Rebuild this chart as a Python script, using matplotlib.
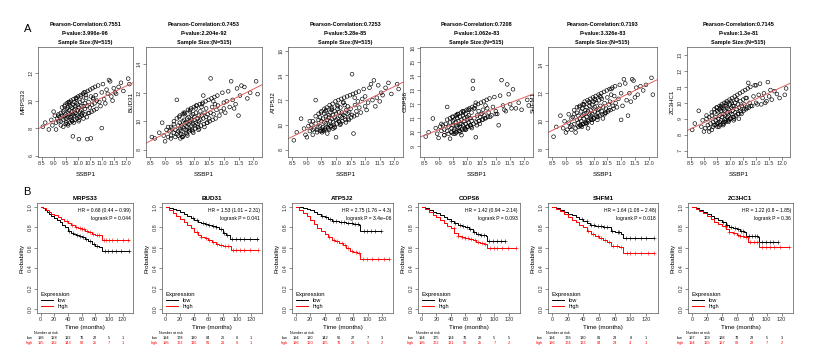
import numpy as np
import matplotlib.pyplot as plt
from matplotlib import transforms

plt.rcParams['font.family'] = ['Liberation Sans', 'DejaVu Sans']

genes = ['MRPS33', 'BUD31', 'ATP5J2', 'COPS6', 'SHFM1', 'ZC3HC1']
pearson = ['0.7551', '0.7453', '0.7253', '0.7208', '0.7193', '0.7145']
pvals = ['3.996e-96', '2.204e-92', '5.28e-85', '1.062e-83', '3.326e-83', '1.3e-81']

# SSBP1 expression (shared x for every scatter panel)
ssbp1 = [8.55, 8.65, 8.8, 8.9, 8.95, 9.05, 9.1, 9.15, 9.2, 9.2,
         9.25, 9.3, 9.3, 9.35, 9.4, 9.4, 9.45, 9.45, 9.5, 9.5,
         9.55, 9.55, 9.6, 9.6, 9.6, 9.65, 9.65, 9.7, 9.7, 9.75,
         9.75, 9.75, 9.8, 9.8, 9.8, 9.85, 9.85, 9.9, 9.9, 9.9,
         9.95, 9.95, 10.0, 10.0, 10.0, 10.05, 10.05, 10.1, 10.1, 10.15,
         10.15, 10.2, 10.2, 10.25, 10.3, 10.3, 10.35, 10.4, 10.4, 10.45,
         10.5, 10.55, 10.55, 10.6, 10.65, 10.7, 10.75, 10.8, 10.9, 11.0,
         11.0, 11.1, 11.2, 11.25, 11.3, 11.4, 11.5, 11.55, 11.6, 11.7,
         11.8, 11.9, 12.1, 12.15,
         9.0, 9.1, 9.2, 9.3, 9.35, 9.4, 9.45, 9.5, 9.55, 9.6,
         9.62, 9.68, 9.72, 9.78, 9.82, 9.88, 9.92, 9.98, 10.02, 10.08,
         10.12, 10.18, 10.22, 10.28, 10.32, 10.38, 10.42, 10.48, 10.52, 10.58,
         10.62, 10.68, 10.72, 10.78, 10.85, 10.95, 11.05, 11.15, 11.35, 11.45,
         9.48, 9.58, 9.66, 9.74, 9.84, 9.94, 10.04, 10.14, 10.24, 10.34,
         9.52, 9.64, 9.76, 9.86, 9.96, 10.06, 10.16, 10.26, 10.44, 10.64]

mrps33 = [8.1, 8.4, 7.9, 8.6, 8.2, 8.9, 8.4, 8.7, 9.0, 8.5,
          8.8, 9.1, 8.5, 8.9, 9.2, 8.6, 8.9, 9.3, 9.0, 8.7,
          9.4, 8.7, 9.1, 8.8, 9.5, 9.0, 9.3, 8.8, 9.6, 9.2,
          8.9, 9.5, 9.0, 9.7, 7.4, 9.3, 8.9, 9.6, 9.1, 9.4,
          9.8, 9.0, 9.3, 9.7, 8.9, 9.5, 7.2, 9.9, 9.2, 9.6,
          9.3, 10.0, 9.1, 9.6, 9.8, 9.4, 10.2, 9.6, 7.2, 9.9,
          9.5, 10.3, 7.25, 9.7, 10.1, 9.8, 10.4, 10.0, 9.9, 10.6,
          8.0, 10.1, 10.8, 10.5, 11.5, 10.3, 10.9, 10.6, 10.5, 11.0,
          11.3, 10.7, 11.6, 11.2,
          9.2, 7.9, 8.9, 8.2, 9.5, 8.1, 9.6, 8.3, 9.8, 8.2,
          9.9, 8.4, 10.0, 8.5, 10.1, 8.6, 10.2, 8.7, 10.3, 8.8,
          10.4, 8.9, 10.5, 9.0, 10.6, 8.8, 10.7, 9.1, 10.8, 9.2,
          10.9, 9.3, 11.0, 9.4, 11.1, 9.6, 11.2, 9.8, 11.4, 10.0,
          9.7, 8.3, 9.9, 8.6, 8.4, 10.1, 8.5, 10.3, 8.7, 10.4,
          8.4, 9.8, 8.5, 9.9, 10.2, 8.6, 9.0, 10.6, 9.1, 10.2]
bud31 = [8.9, 8.8, 9.2, 9.9, 9.0, 9.4, 8.9, 9.3, 9.6, 9.0,
         9.5, 9.2, 9.8, 9.4, 11.5, 9.1, 9.7, 9.3, 9.9, 9.4,
         9.7, 9.3, 10.0, 8.9, 9.6, 10.1, 9.5, 9.9, 9.4, 10.2,
         9.6, 9.9, 10.3, 9.5, 9.8, 10.0, 9.4, 10.4, 9.7, 10.1,
         9.8, 10.5, 10.1, 9.7, 10.3, 9.9, 10.6, 10.2, 9.8, 10.4,
         10.0, 10.7, 10.1, 10.4, 11.8, 10.2, 10.6, 10.3, 10.9, 10.5,
         10.2, 13.0, 10.6, 11.0, 10.5, 11.2, 10.8, 11.1, 10.7, 11.3,
         10.9, 11.4, 11.0, 12.8, 11.5, 11.2, 10.4, 11.8, 12.5, 12.4,
         11.6, 12.0, 12.8, 11.9,
         8.6, 9.6, 8.8, 10.0, 8.9, 10.2, 9.0, 10.4, 9.1, 10.5,
         9.0, 10.6, 9.2, 10.8, 9.3, 10.9, 9.4, 11.0, 9.5, 11.1,
         9.6, 11.2, 9.7, 11.3, 9.8, 11.4, 9.9, 11.5, 10.0, 11.6,
         10.1, 11.7, 10.2, 11.8, 10.4, 12.0, 10.6, 12.1, 10.9, 12.3,
         10.3, 8.9, 10.5, 9.1, 10.7, 9.3, 10.9, 9.4, 11.0, 9.6,
         8.8, 10.6, 9.0, 10.8, 9.2, 11.1, 9.5, 11.2, 9.9, 11.4]
atp5j2 = [8.75, 9.4, 10.5, 9.7, 9.2, 9.9, 9.5, 10.0, 9.6, 10.3,
          9.7, 12.0, 10.1, 9.6, 10.4, 9.8, 10.6, 9.9, 10.3, 9.5,
          10.5, 9.8, 10.9, 10.2, 9.6, 10.7, 10.1, 10.4, 9.3, 10.8,
          10.0, 10.6, 10.3, 11.0, 9.9, 10.5, 11.2, 10.2, 10.8, 9.7,
          10.6, 11.1, 10.4, 9.0, 10.9, 10.5, 11.3, 10.3, 11.0, 10.7,
          11.4, 10.6, 11.0, 10.8, 11.6, 10.7, 11.2, 10.9, 11.5, 11.0,
          11.3, 10.8, 14.1, 9.3, 11.6, 11.1, 11.9, 11.4, 12.1, 11.5,
          12.3, 11.8, 13.3, 12.0, 13.6, 12.2, 11.9, 12.6, 12.4, 13.0,
          13.4, 12.5, 13.3, 12.9,
          9.0, 10.3, 9.2, 10.7, 9.4, 10.9, 9.5, 11.1, 9.6, 11.3,
          9.7, 11.4, 9.8, 11.6, 9.9, 11.7, 10.0, 11.9, 10.1, 12.0,
          10.2, 12.1, 10.3, 12.2, 10.4, 12.3, 10.5, 12.4, 10.6, 12.5,
          10.7, 12.6, 10.8, 12.7, 11.0, 12.9, 11.2, 13.0, 11.5, 13.2,
          11.0, 9.5, 11.2, 9.7, 11.4, 9.8, 11.6, 10.0, 11.8, 10.2,
          9.4, 11.1, 9.6, 11.3, 9.8, 11.5, 10.1, 11.8, 10.4, 12.2]
cops6 = [9.7, 10.0, 10.98, 10.3, 9.9, 10.4, 10.1, 10.5, 9.8, 10.2,
         10.6, 11.8, 10.1, 10.4, 9.55, 10.7, 10.3, 10.0, 10.8, 10.5,
         10.2, 10.9, 10.5, 10.7, 10.0, 11.0, 10.4, 10.8, 10.3, 10.6,
         11.1, 10.4, 10.9, 9.8, 10.6, 11.2, 10.5, 10.8, 10.2, 11.0,
         10.6, 11.3, 10.9, 10.4, 11.1, 10.7, 11.2, 10.5, 11.0, 10.8,
         11.4, 13.65, 13.1, 11.0, 12.1, 9.65, 11.2, 10.8, 11.5, 11.1,
         11.3, 10.9, 11.6, 11.2, 11.0, 11.7, 11.4, 11.1, 11.8, 11.5,
         11.3, 10.5, 13.7, 11.9, 11.6, 13.4, 12.0, 11.7, 13.05, 11.7,
         12.1, 11.6, 12.3, 11.9,
         9.6, 10.6, 9.8, 10.9, 9.9, 11.0, 10.0, 11.1, 10.1, 11.2,
         10.0, 11.3, 10.1, 11.4, 10.2, 11.5, 10.3, 11.6, 10.4, 11.7,
         10.5, 11.8, 10.6, 11.9, 10.7, 12.0, 10.8, 12.1, 10.9, 12.2,
         11.0, 12.3, 11.1, 12.4, 11.2, 12.5, 11.3, 12.6, 11.5, 12.7,
         11.1, 9.9, 11.3, 10.1, 11.5, 10.2, 11.6, 10.4, 11.7, 10.5,
         9.9, 11.2, 10.0, 11.4, 10.2, 11.6, 10.3, 11.7, 10.6, 11.9]
shfm1 = [8.9, 9.6, 10.4, 9.5, 10.0, 9.4, 9.9, 9.6, 10.2, 9.7,
         10.3, 9.8, 10.5, 9.2, 10.1, 10.6, 9.9, 10.4, 9.7, 10.2,
         10.7, 10.0, 10.4, 10.9, 9.8, 10.5, 10.2, 10.8, 9.9, 10.6,
         10.3, 11.0, 10.1, 10.7, 9.5, 10.5, 11.1, 10.2, 10.8, 10.4,
         11.2, 10.5, 10.9, 10.2, 11.4, 10.7, 11.0, 10.4, 11.3, 10.8,
         10.6, 11.5, 10.9, 11.1, 10.7, 11.6, 11.0, 10.5, 11.3, 10.9,
         11.7, 11.2, 10.8, 11.4, 12.3, 11.1, 11.8, 11.3, 11.6, 12.0,
         10.1, 13.0, 11.5, 10.4, 12.0, 13.0, 11.7, 12.4, 11.9, 12.5,
         12.2, 12.6, 13.1, 11.9,
         9.2, 10.5, 9.4, 10.8, 9.5, 11.0, 9.6, 11.1, 9.7, 11.2,
         9.8, 11.4, 9.9, 11.5, 10.0, 11.6, 10.1, 11.7, 10.2, 11.8,
         10.3, 11.9, 10.4, 12.0, 10.5, 12.1, 10.6, 12.2, 10.7, 12.3,
         10.8, 12.4, 10.9, 12.5, 11.0, 12.6, 11.1, 12.7, 11.4, 12.9,
         11.0, 9.6, 11.2, 9.8, 11.4, 9.9, 11.6, 10.1, 11.8, 10.2,
         9.7, 11.2, 9.9, 11.3, 10.1, 11.5, 10.3, 11.7, 10.6, 11.9]
zc3hc1 = [8.3, 8.7, 9.5, 8.5, 8.9, 8.4, 9.0, 8.6, 8.2, 9.1,
          8.7, 8.3, 9.2, 8.8, 9.4, 8.6, 9.1, 8.9, 9.5, 8.7,
          9.0, 9.4, 8.8, 9.6, 9.2, 8.9, 9.5, 9.1, 9.7, 8.8,
          9.3, 9.6, 9.0, 9.5, 9.2, 9.8, 8.9, 9.4, 9.7, 9.1,
          9.6, 9.2, 9.9, 9.4, 9.0, 9.7, 9.3, 9.8, 9.5, 9.1,
          9.8, 9.4, 10.0, 9.6, 9.3, 9.9, 9.7, 10.1, 9.5, 9.8,
          10.2, 9.6, 9.9, 10.3, 9.7, 11.25, 10.0, 9.8, 10.4, 11.1,
          10.0, 10.5, 9.9, 10.3, 10.6, 10.1, 10.4, 10.8, 10.2, 10.73,
          10.55, 10.3, 10.5, 10.9,
          8.2, 9.2, 8.4, 9.4, 8.5, 9.6, 8.6, 9.7, 8.7, 9.8,
          8.6, 9.9, 8.7, 10.0, 8.8, 10.1, 8.9, 10.2, 9.0, 10.3,
          9.1, 10.4, 9.2, 10.5, 9.3, 10.6, 9.4, 10.7, 9.5, 10.8,
          9.6, 10.9, 9.7, 11.0, 9.8, 11.1, 9.9, 11.2, 10.0, 11.3,
          9.7, 8.5, 9.8, 8.6, 10.0, 8.8, 10.1, 8.9, 10.2, 9.0,
          8.5, 9.7, 8.7, 9.9, 8.9, 10.0, 9.0, 10.2, 9.3, 10.3]
gene_expr = [mrps33, bud31, atp5j2, cops6, shfm1, zc3hc1]

scatter_ylims = [(5.9, 13.9), (7.5, 15.2), (7.4, 16.3), (8.25, 16.05), (7.45, 15.3), (6.6, 13.5)]
scatter_yticks = [[6, 8, 10, 12], [8, 10, 12, 14], [8, 10, 12, 14, 16],
                  [9, 10, 11, 12, 13, 14, 15, 16], [8, 10, 12, 14], [7, 8, 9, 10, 11, 12, 13]]

# Kaplan-Meier curves (step times, survival) for low / high expression
km_low_t = [[0, 3, 6, 9, 12, 16, 20, 24, 28, 32, 36, 40, 44, 48, 52, 56, 60, 65, 70, 75, 80, 85, 90, 130],
            [0, 5, 10, 15, 20, 25, 30, 35, 40, 45, 50, 55, 60, 65, 70, 75, 80, 85, 90, 130],
            [0, 5, 10, 15, 20, 25, 30, 35, 40, 45, 50, 55, 60, 70, 80, 88, 90, 118],
            [0, 5, 10, 15, 20, 25, 30, 35, 40, 45, 50, 55, 60, 65, 70, 75, 80, 88, 90, 115],
            [0, 5, 10, 15, 20, 25, 30, 35, 40, 45, 48, 55, 60, 65, 70, 75, 80, 88, 90, 130],
            [0, 5, 10, 15, 20, 25, 30, 35, 40, 45, 50, 55, 60, 65, 70, 72, 80, 88, 90, 115]]
km_low_s = [[1.0, 0.99, 0.97, 0.95, 0.93, 0.91, 0.89, 0.87, 0.85, 0.82, 0.80, 0.77, 0.75, 0.74, 0.73, 0.72, 0.71, 0.69, 0.67, 0.64, 0.62, 0.61, 0.57, 0.57],
            [1.0, 0.99, 0.98, 0.97, 0.95, 0.93, 0.91, 0.89, 0.87, 0.85, 0.84, 0.83, 0.82, 0.81, 0.80, 0.78, 0.75, 0.73, 0.69, 0.69],
            [1.0, 1.0, 0.99, 0.98, 0.97, 0.95, 0.93, 0.91, 0.90, 0.88, 0.86, 0.86, 0.85, 0.84, 0.83, 0.82, 0.77, 0.77],
            [1.0, 0.99, 0.97, 0.95, 0.94, 0.92, 0.90, 0.88, 0.86, 0.84, 0.82, 0.81, 0.80, 0.78, 0.76, 0.74, 0.73, 0.72, 0.67, 0.67],
            [1.0, 0.99, 0.97, 0.95, 0.93, 0.92, 0.90, 0.88, 0.86, 0.84, 0.82, 0.81, 0.81, 0.80, 0.80, 0.77, 0.76, 0.74, 0.70, 0.70],
            [1.0, 0.99, 0.97, 0.95, 0.93, 0.91, 0.89, 0.87, 0.85, 0.82, 0.80, 0.79, 0.78, 0.77, 0.76, 0.72, 0.72, 0.71, 0.66, 0.66]]
km_high_t = [[0, 4, 8, 12, 16, 20, 25, 30, 35, 40, 45, 50, 55, 60, 65, 70, 75, 80, 85, 90, 130],
             [0, 5, 10, 15, 20, 25, 30, 35, 40, 45, 50, 55, 60, 65, 70, 75, 80, 85, 92, 130],
             [0, 5, 10, 15, 20, 25, 30, 35, 40, 45, 50, 55, 60, 65, 70, 75, 80, 85, 90, 130],
             [0, 5, 10, 15, 20, 25, 30, 35, 40, 45, 50, 55, 60, 65, 70, 75, 80, 85, 90, 130],
             [0, 5, 10, 15, 20, 25, 30, 35, 40, 45, 50, 55, 60, 65, 70, 75, 80, 85, 90, 130],
             [0, 5, 10, 15, 20, 25, 30, 35, 40, 45, 50, 55, 60, 65, 70, 75, 80, 85, 90, 130]]
km_high_s = [[1.0, 0.99, 0.97, 0.95, 0.93, 0.92, 0.90, 0.88, 0.86, 0.84, 0.82, 0.80, 0.79, 0.78, 0.77, 0.76, 0.74, 0.73, 0.73, 0.68, 0.68],
             [1.0, 0.97, 0.94, 0.91, 0.88, 0.85, 0.82, 0.79, 0.76, 0.73, 0.71, 0.70, 0.68, 0.66, 0.64, 0.63, 0.62, 0.62, 0.58, 0.58],
             [1.0, 0.97, 0.94, 0.91, 0.87, 0.83, 0.79, 0.77, 0.74, 0.71, 0.68, 0.67, 0.65, 0.63, 0.60, 0.57, 0.56, 0.55, 0.49, 0.49],
             [1.0, 0.98, 0.95, 0.92, 0.90, 0.87, 0.84, 0.81, 0.79, 0.75, 0.72, 0.71, 0.70, 0.69, 0.68, 0.66, 0.65, 0.64, 0.60, 0.60],
             [1.0, 0.98, 0.96, 0.93, 0.90, 0.87, 0.85, 0.82, 0.80, 0.77, 0.74, 0.72, 0.70, 0.68, 0.66, 0.62, 0.62, 0.61, 0.55, 0.55],
             [1.0, 0.98, 0.96, 0.94, 0.91, 0.88, 0.85, 0.83, 0.81, 0.78, 0.76, 0.75, 0.73, 0.72, 0.71, 0.66, 0.66, 0.66, 0.61, 0.61]]
censor_low = [[42, 47, 53, 58, 62, 66, 72, 78, 83, 94, 99, 105, 111, 118, 130],
              [38, 44, 52, 57, 61, 66, 71, 77, 82, 86, 93, 98, 104, 110, 118, 128],
              [36, 42, 47, 52, 56, 63, 67, 73, 78, 83, 86, 95, 99, 104, 110, 118],
              [40, 46, 52, 57, 62, 67, 72, 78, 82, 86, 93, 98, 103, 109, 115],
              [38, 44, 50, 54, 58, 62, 66, 70, 77, 84, 86, 94, 100, 106, 113, 120, 130],
              [42, 47, 52, 57, 62, 66, 68, 76, 80, 84, 87, 94, 99, 104, 109, 115]]
censor_high = [[38, 46, 52, 57, 61, 64, 68, 73, 77, 82, 86, 93, 96, 100, 104, 112, 120, 128],
               [44, 50, 56, 61, 66, 72, 78, 83, 88, 95, 99, 104, 110, 118, 130],
               [46, 53, 58, 64, 68, 73, 78, 84, 88, 94, 99, 106, 114, 122, 130],
               [44, 50, 55, 60, 64, 68, 73, 78, 83, 87, 94, 99, 104, 110, 118, 130],
               [46, 52, 58, 63, 68, 73, 78, 83, 88, 95, 100, 106, 113, 122, 130],
               [44, 50, 56, 61, 65, 69, 73, 78, 83, 87, 94, 99, 104, 110, 118, 130]]

hr_text = ['HR = 0.68 (0.44 \u2212 0.99)', 'HR = 1.53 (1.01 \u2212 2.31)', 'HR = 2.75 (1.76 \u2212 4.3)',
           'HR = 1.42 (0.94 \u2212 2.14)', 'HR = 1.64 (1.08 \u2212 2.48)', 'HR = 1.22 (0.8 \u2212 1.85)']
logrank = ['0.044', '0.041', '3.4e\u221206', '0.093', '0.018', '0.36']

risk_times = [0, 20, 40, 60, 80, 100, 120]
risk_low = [[196, 168, 122, 76, 22, 5, 1], [194, 178, 130, 84, 26, 6, 1], [194, 180, 142, 96, 27, 7, 3],
            [194, 175, 124, 76, 22, 5, 5], [194, 176, 130, 81, 23, 8, 1], [197, 169, 128, 78, 23, 5, 3]]
risk_high = [[195, 182, 143, 88, 25, 7, 1], [196, 172, 135, 91, 21, 6, 1], [196, 160, 125, 76, 20, 5, 2],
             [196, 172, 131, 90, 25, 7, 2], [196, 174, 133, 84, 24, 4, 1], [194, 165, 127, 89, 22, 7, 2]]

W, H = 820, 355
top_x = [(38, 133), (146, 262), (288, 403), (420, 533), (548, 657), (687, 790)]
bot_x = [(37, 133), (162, 262), (292, 393), (418, 520), (548, 658), (688, 793)]

fig = plt.figure(figsize=(W / 100, H / 100), dpi=100)


def px_axes(x0, x1, y0, y1):
    return fig.add_axes([x0 / W, 1 - y1 / H, (x1 - x0) / W, (y1 - y0) / H])


def style(ax):
    for s in ax.spines.values():
        s.set_linewidth(0.5)
        s.set_color('#555555')
    ax.tick_params(direction='out', length=2, width=0.4, pad=1.2, labelsize=4, colors='#333333')
    for lab in ax.get_yticklabels():
        lab.set_rotation(90)
        lab.set_va('center')


xt = [8.5, 9.0, 9.5, 10.0, 10.5, 11.0, 11.5, 12.0]
for i, g in enumerate(genes):
    x0, x1 = top_x[i]
    ax = px_axes(x0, x1, 47, 157)
    ax.scatter(ssbp1, gene_expr[i], s=7, facecolors='none', edgecolors='black', linewidths=0.45)
    m, b = np.polyfit(ssbp1, gene_expr[i], 1)
    ax.axline((10, m * 10 + b), slope=m, color='#e06060', lw=0.7)
    ax.set_xlim(8.35, 12.3)
    ax.set_ylim(*scatter_ylims[i])
    ax.set_xticks(xt)
    ax.set_xticklabels(['%.1f' % v for v in xt])
    ax.set_yticks(scatter_yticks[i])
    style(ax)
    ax.set_xlabel('SSBP1', fontsize=4.5, labelpad=4)
    ax.set_ylabel(g, fontsize=4.5, labelpad=2)
    ax.text(0.5, 1.209, 'Pearson-Correlation:' + pearson[i], transform=ax.transAxes,
            ha='center', va='center', fontsize=4, fontweight='bold')
    ax.text(0.5, 1.127, 'P-value:' + pvals[i], transform=ax.transAxes,
            ha='center', va='center', fontsize=4, fontweight='bold')
    ax.text(0.5, 1.045, 'Sample Size:(N=515)', transform=ax.transAxes,
            ha='center', va='center', fontsize=4, fontweight='bold')


def surv_at(t, s, c):
    idx = np.searchsorted(t, c, side='right') - 1
    return np.array(s)[idx]


for i, g in enumerate(genes):
    x0, x1 = bot_x[i]
    ax = px_axes(x0, x1, 203, 313)
    for t, s, c, col, lab in [(km_low_t[i], km_low_s[i], censor_low[i], 'black', 'low'),
                              (km_high_t[i], km_high_s[i], censor_high[i], 'red', 'high')]:
        ax.step(t, s, where='post', color=col, lw=0.7, label=lab)
        ax.plot(c, surv_at(t, s, c), '+', color=col, ms=2.2, mew=0.4)
    ax.set_xlim(-5.2, 135.2)
    ax.set_ylim(-0.04, 1.04)
    ax.set_xticks([0, 20, 40, 60, 80, 100, 120])
    ax.set_yticks([0, 0.2, 0.4, 0.6, 0.8, 1.0])
    ax.set_yticklabels(['0.0', '0.2', '0.4', '0.6', '0.8', '1.0'])
    style(ax)
    ax.set_title(g, fontsize=4.5, fontweight='bold', pad=2)
    ax.set_xlabel('Time (months)', fontsize=4.5, labelpad=1.5)
    ax.set_ylabel('Probability', fontsize=4.5, labelpad=2)
    ax.text(0.98, 0.935, hr_text[i], transform=ax.transAxes, ha='right', va='center', fontsize=3.6)
    ax.text(0.98, 0.862, 'logrank P = ' + logrank[i], transform=ax.transAxes, ha='right', va='center', fontsize=3.6)
    leg = ax.legend(title='Expression', loc='lower left', frameon=False, fontsize=4, title_fontsize=4.3,
                    handlelength=2.2, borderaxespad=0.3, labelspacing=0.15, alignment='left')
    tr = transforms.blended_transform_factory(ax.transData, ax.transAxes)
    ax.text(8, -0.18, 'Number at risk', transform=tr, ha='center', va='center', fontsize=2.6)
    ax.text(-16, -0.227, 'low', transform=tr, ha='center', va='center', fontsize=2.8)
    ax.text(-16, -0.273, 'high', transform=tr, ha='center', va='center', fontsize=2.8, color='red')
    for k, tt in enumerate(risk_times):
        ax.text(tt, -0.227, str(risk_low[i][k]), transform=tr, ha='center', va='center', fontsize=2.8)
        ax.text(tt, -0.273, str(risk_high[i][k]), transform=tr, ha='center', va='center', fontsize=2.8, color='red')

fig.text(28 / W, 1 - 29 / H, 'A', fontsize=8, ha='center', va='center')
fig.text(27 / W, 1 - 192 / H, 'B', fontsize=8, ha='center', va='center')

fig.savefig('out.png', dpi=100)
